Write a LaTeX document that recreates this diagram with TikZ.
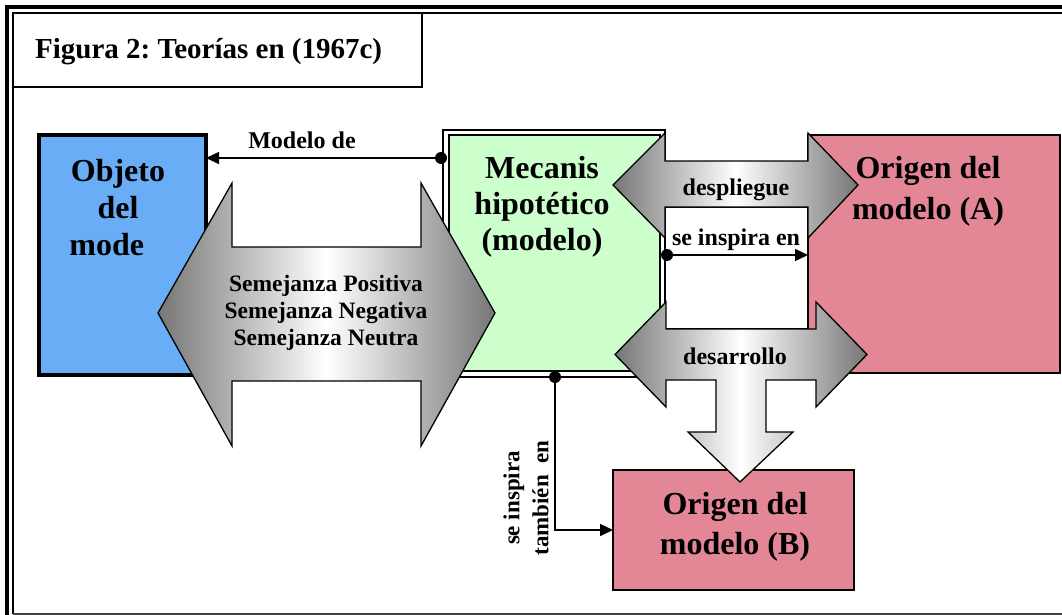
\documentclass[tikz,border=0pt]{standalone}
\usepackage{fontspec}
\setmainfont{Liberation Serif}
\usetikzlibrary{arrows.meta}
\frenchspacing
\definecolor{objblue}{HTML}{6AADF7}
\definecolor{mechgreen}{HTML}{CCFFCC}
\definecolor{origpink}{HTML}{E38696}
\definecolor{shadegray}{HTML}{767676}
\tikzset{
  box/.style={draw=black, line width=1.6pt, inner sep=0pt, outer sep=0pt},
  bigtext/.style={font=\fontsize{32}{38}\selectfont\bfseries, align=center, inner sep=0pt},
  lbl/.style={font=\fontsize{24}{28}\selectfont\bfseries, inner sep=0pt},
  fatarrow/.style={draw=black, line width=1.3pt, line join=miter, shading=axis, left color=shadegray, right color=shadegray, middle color=white, shading angle=90},
  conn/.style={line width=1.5pt, -{Triangle[length=13pt,width=12pt]}},
  dot/.style={fill=black},
}
\begin{document}
\begin{tikzpicture}[x=1pt,y=-1pt]
\useasboundingbox (0,0) rectangle (1062,615);
\fill[white] (0,0) rectangle (1062,615);
% frame
\draw[line width=3.2pt] (7,620) -- (7,7) -- (1070,7);
\draw[line width=2pt] (13,614) -- (13,13) -- (1070,13);
\draw[line width=2pt, black!75] (13,613.5) -- (1070,613.5);
% title
\node[box, line width=1.5pt, minimum width=409pt, minimum height=74pt] (title) at (217.5,50) {};
\node[anchor=base west, font=\fontsize{29}{33}\selectfont\bfseries, inner sep=0pt] (titletext) at (35,59) {Figura 2: Teorías en (1967c)};
% boxes
\node[box, line width=4.5pt, fill=objblue, minimum width=167pt, minimum height=240pt] (obj) at (122.5,255) {};
\node[box, line width=1.3pt, fill=white, minimum width=222pt, minimum height=247pt] (mechout) at (554,253.5) {};
\node[box, line width=1.3pt, fill=mechgreen, minimum width=211pt, minimum height=236pt] (mech) at (554.5,253) {};
\node[box, line width=1.6pt, fill=origpink, minimum width=252pt, minimum height=238pt] (origA) at (934,254) {};
\node[box, line width=1.6pt, fill=white, minimum width=143pt, minimum height=122pt] (wbox) at (736.5,268) {};
\node[box, line width=1.6pt, fill=origpink, minimum width=241pt, minimum height=120pt] (origB) at (733.5,530) {};
% box texts
\node[bigtext, font=\fontsize{32}{37}\selectfont\bfseries] (objtext) at (118,208) {Objeto\\del\\mode\hspace*{0.7em}};
\node[bigtext, font=\fontsize{32}{36}\selectfont\bfseries] (mechtext) at (542,207) {Mecanis\\hipotético\\(modelo)};
\node[bigtext, font=\fontsize{32}{41}\selectfont\bfseries] (origAtext) at (928,191) {Origen del\\modelo (A)};
\node[bigtext, font=\fontsize{32}{40}\selectfont\bfseries] (origBtext) at (735,527) {Origen del\\modelo (B)};
% semejanza double arrow
\path[fatarrow] (158,313) -- (232,183) -- (232,247) -- (421,247) -- (421,183) -- (495,313) -- (421,446) -- (421,381) -- (232,381) -- (232,446) -- cycle;
\node[font=\fontsize{23.5}{27}\selectfont\bfseries, align=center, inner sep=0pt] (semtext) at (326,313) {Semejanza Positiva\\Semejanza Negativa\\Semejanza Neutra};
% despliegue double arrow
\path[fatarrow] (613,185) -- (665,133) -- (665,161) -- (808,161) -- (808,133) -- (858,185) -- (808,238) -- (808,207) -- (665,207) -- (665,238) -- cycle;
\node[lbl, anchor=base] (despl) at (736,195) {despliegue};
% desarrollo arrow
\path[fatarrow] (615,354.5) -- (666,302) -- (666,329) -- (816,329) -- (816,302) -- (867,354.5) -- (816,407) -- (816,380) -- (766,380) -- (766,432) -- (793,432) -- (740,482) -- (688,432) -- (716,432) -- (716,380) -- (666,380) -- (666,407) -- cycle;
\node[lbl, anchor=base] (desarr) at (735,364) {desarrollo};
% connectors
\coordinate (mstart) at (441,158);
\draw[conn] (mstart) -- (obj.east |- mstart);
\fill[dot] (mstart) circle (6pt);
\node[lbl, anchor=base] (modelode) at (302,148) {Modelo de};
\coordinate (istart) at (667,255);
\draw[conn] (istart) -- (origA.west |- istart);
\fill[dot] (istart) circle (6pt);
\node[lbl, anchor=base] (inspira) at (736,245) {se inspira en};
\coordinate (tstart) at (555,377);
\draw[conn] (tstart) |- (origB.west);
\fill[dot] (tstart) circle (6pt);
\node[lbl, rotate=90, align=center, font=\fontsize{23}{29}\selectfont\bfseries] (tambien) at (526,498) {se inspira\\también\ \ en};
\end{tikzpicture}
\end{document}
